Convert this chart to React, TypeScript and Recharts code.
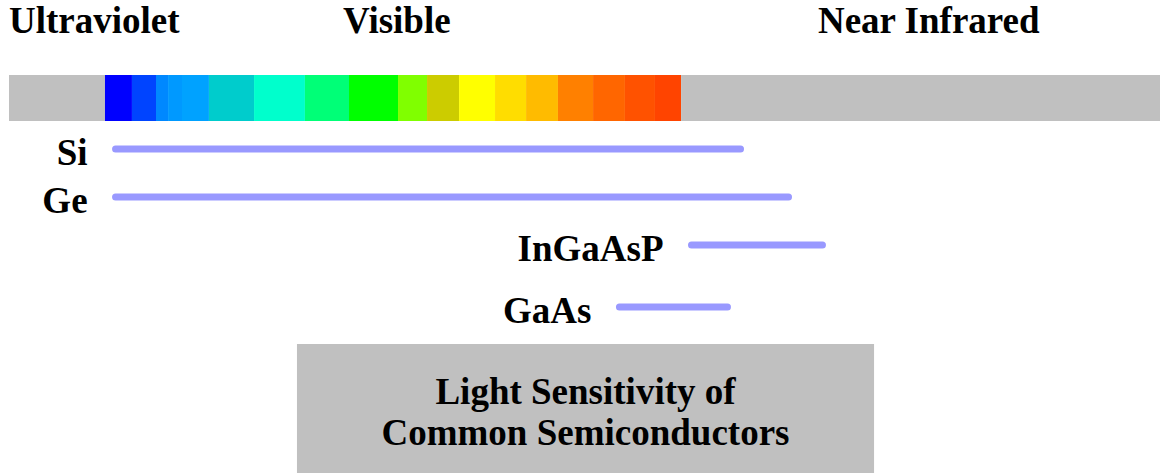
import React from 'react';
import { ComposedChart, XAxis, YAxis, Line, ReferenceArea, ReferenceDot } from 'recharts';

const FONT = '"Liberation Serif", "Times New Roman", serif';

// Spectrum bands (wavelength-like scale, nm)
const bandEdges = [306.2, 372.4, 391.0, 407.6, 415.9, 425.5, 444.1, 475.2, 510.3, 540.7, 574.5, 594.5, 616.6, 641.4, 662.8, 684.8, 709.0, 731.0, 751.7, 769.7, 1100];
const bandColors = [
  '#C0C0C0', '#0000FF', '#0044FF', '#0088FF', '#0099FF', '#00A2FF', '#00CCCC', '#00FFCC', '#00FF77',
  '#00FF00', '#80FF00', '#CCCC00', '#FFFF00', '#FFDD00', '#FFBB00', '#FF8000', '#FF6600', '#FF5200',
  '#FF4400', '#C0C0C0',
];

// Region headings
const regionLabels = ['Ultraviolet', 'Visible', 'Near Infrared'];
const regionStarts = [306.2, 536.6, 864.1];

// Semiconductor sensitivity ranges
const materials = ['Si', 'Ge', 'InGaAsP', 'GaAs'];
const rangeFrom = [379.7, 379.7, 776.9, 727.2];
const rangeTo = [810.7, 843.8, 867.2, 801.7];
const rowDepth = [149, 197, 245, 307];

// Title
const titleLines = ['Light Sensitivity of', 'Common Semiconductors'];
const titleFrom = 504.8;
const titleTo = 902.8;

const textStyle = { fontFamily: FONT, fontWeight: 700, fontSize: 37, fill: '#000' } as const;

export default function App() {
  const series = materials.map((m, i) => ({
    name: m,
    data: [
      { x: rangeFrom[i], y: rowDepth[i] },
      { x: rangeTo[i], y: rowDepth[i] },
    ],
  }));

  return (
    <div style={{ position: 'absolute', left: 0, top: 0, width: 1160, height: 473, background: '#fff' }}>
      <ComposedChart width={1160} height={473} margin={{ top: 0, right: 0, bottom: 0, left: 0 }}>
        <XAxis type="number" dataKey="x" domain={[300, 1100]} hide allowDataOverflow />
        <YAxis type="number" dataKey="y" domain={[0, 473]} reversed hide width={0} allowDataOverflow />

        {bandColors.map((c, i) => (
          <ReferenceArea
            key={'band' + i}
            x1={bandEdges[i]}
            x2={bandEdges[i + 1]}
            y1={75}
            y2={121}
            fill={c}
            fillOpacity={1}
            stroke="none"
            ifOverflow="visible"
          />
        ))}

        <ReferenceArea
          x1={titleFrom}
          x2={titleTo}
          y1={344}
          y2={473}
          fill="#C0C0C0"
          fillOpacity={1}
          stroke="none"
          ifOverflow="visible"
          label={(props: any) => {
            const vb = props.viewBox || {};
            const cx = vb.x + vb.width / 2;
            return (
              <g>
                {titleLines.map((t, k) => (
                  <text key={k} x={cx} y={vb.y + 60 + k * 41} textAnchor="middle" style={textStyle}>
                    {t}
                  </text>
                ))}
              </g>
            );
          }}
        />

        {regionLabels.map((t, i) => (
          <ReferenceDot
            key={'reg' + i}
            x={regionStarts[i]}
            y={33}
            r={0}
            fill="none"
            stroke="none"
            ifOverflow="visible"
            label={(props: any) => {
              const vb = props.viewBox || {};
              return (
                <text x={vb.x} y={vb.y} textAnchor="start" style={textStyle}>
                  {t}
                </text>
              );
            }}
          />
        ))}

        {series.map((s) => (
          <Line
            key={s.name}
            data={s.data}
            dataKey="y"
            type="linear"
            stroke="#9999FF"
            strokeWidth={7}
            strokeLinecap="round"
            dot={false}
            activeDot={false}
            isAnimationActive={false}
            label={(p: any) =>
              p.index === 0 ? (
                <text key={s.name} x={p.x - 28} y={p.y + 16} textAnchor="end" style={textStyle}>
                  {s.name}
                </text>
              ) : (
                <g key={s.name + p.index} />
              )
            }
          />
        ))}
      </ComposedChart>
    </div>
  );
}
